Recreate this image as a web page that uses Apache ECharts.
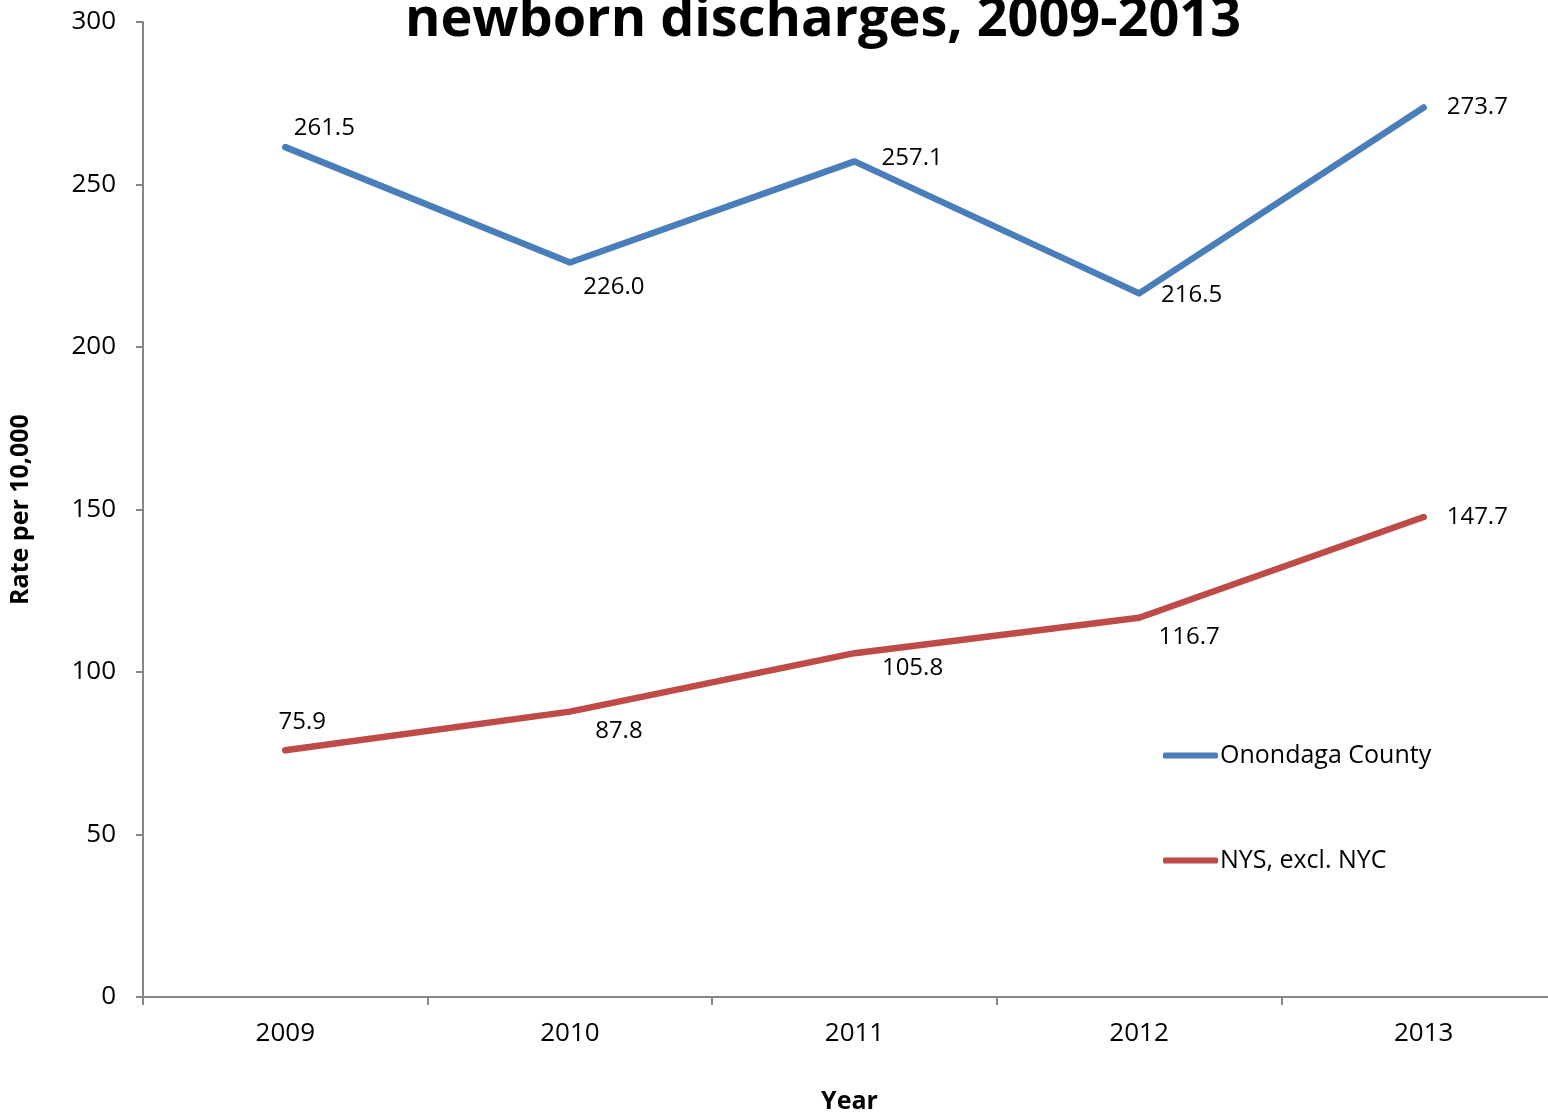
<!DOCTYPE html>
<html>
<head>
<meta charset="utf-8">
<title>Newborn discharges, 2009-2013</title>
<script src="https://cdn.jsdelivr.net/npm/echarts@6/dist/echarts.min.js"></script>
<style>
  html, body { margin: 0; padding: 0; background: #ffffff; }
  #chart { width: 1548px; height: 1113px; }
</style>
</head>
<body>
<div id="chart"></div>
<script>
// Rates per 10,000 newborn discharges
const years = ['2009', '2010', '2011', '2012', '2013'];
const onondaga = [261.5, 226.0, 257.1, 216.5, 273.7];
const nysExclNyc = [75.9, 87.8, 105.8, 116.7, 147.7];
const yTicks = [0, 50, 100, 150, 200, 250, 300];

const FONT = '"Open Sans", "Noto Sans", sans-serif';
const BLUE = '#4A7EBB';
const RED = '#BE4B48';

// per-point label placement [position, dx, dy]
const blueLabelPlace = [
  ['top', 39, -2], ['bottom', 44, 8], ['right', 22, -3], ['right', 17, 2], ['right', 18, 0]
];
const redLabelPlace = [
  ['top', 17, -11], ['bottom', 49, 3], ['bottom', 58, -2], ['bottom', 50, 2], ['right', 18, 0]
];

function seriesData(values, place) {
  return values.map((v, i) => ({
    value: v,
    label: {
      position: place[i][0],
      offset: [place[i][1], place[i][2]]
    }
  }));
}

const chart = echarts.init(document.getElementById('chart'), null, { renderer: 'canvas' });

const lineSeries = (name, values, place, color) => ({
  name: name,
  type: 'line',
  data: seriesData(values, place),
  symbol: 'circle',
  symbolSize: 0,
  showSymbol: true,
  color: color,
  itemStyle: { color: color },
  lineStyle: { color: color, width: 6.5, cap: 'round', join: 'round' },
  label: {
    show: true,
    fontFamily: FONT,
    fontSize: 24,
    color: '#000000',
    formatter: p => Number(p.value).toFixed(1)
  }
});

chart.setOption({
  backgroundColor: '#ffffff',
  animation: false,
  textStyle: { fontFamily: FONT },
  title: {
    text: 'newborn discharges, 2009-2013',
    left: 823,
    textAlign: 'center',
    top: -6,
    padding: 0,
    textStyle: { fontFamily: FONT, fontSize: 54, fontWeight: 'bold', color: '#000000' }
  },
  legend: {
    orient: 'vertical',
    left: 1163,
    top: 743,
    padding: 0,
    itemGap: 80,
    itemWidth: 55,
    itemHeight: 6,
    icon: 'roundRect',
    textStyle: { fontFamily: FONT, fontSize: 25, color: '#000000', padding: [0, 0, 0, -3] },
    data: ['Onondaga County', 'NYS, excl. NYC']
  },
  grid: {
    left: 143, width: 1423, top: 22, height: 975,
    containLabel: false,
    outerBoundsMode: 'none'
  },
  xAxis: {
    type: 'category',
    data: years,
    boundaryGap: true,
    name: 'Year',
    nameLocation: 'middle',
    nameGap: 92,
    nameTextStyle: { fontFamily: FONT, fontSize: 25, fontWeight: 'bold', color: '#000000', padding: [0, 10, 0, 0] },
    axisLine: { lineStyle: { color: '#868686', width: 2 } },
    axisTick: { show: true, length: 8, lineStyle: { color: '#868686', width: 2 } },
    axisLabel: { margin: 24, fontFamily: FONT, fontSize: 26, color: '#000000' },
    splitLine: { show: false }
  },
  yAxis: {
    type: 'value',
    min: yTicks[0],
    max: yTicks[yTicks.length - 1],
    interval: yTicks[1] - yTicks[0],
    name: 'Rate per 10,000',
    nameLocation: 'middle',
    nameGap: 110,
    nameRotate: 90,
    nameTextStyle: { fontFamily: FONT, fontSize: 25, fontWeight: 'bold', color: '#000000' },
    axisLine: { show: true, lineStyle: { color: '#868686', width: 2 } },
    axisTick: { show: true, length: 7, lineStyle: { color: '#868686', width: 2 } },
    axisLabel: { margin: 27, fontFamily: FONT, fontSize: 26, color: '#000000' },
    splitLine: { show: false }
  },
  series: [
    lineSeries('Onondaga County', onondaga, blueLabelPlace, BLUE),
    lineSeries('NYS, excl. NYC', nysExclNyc, redLabelPlace, RED)
  ]
});
</script>
</body>
</html>
